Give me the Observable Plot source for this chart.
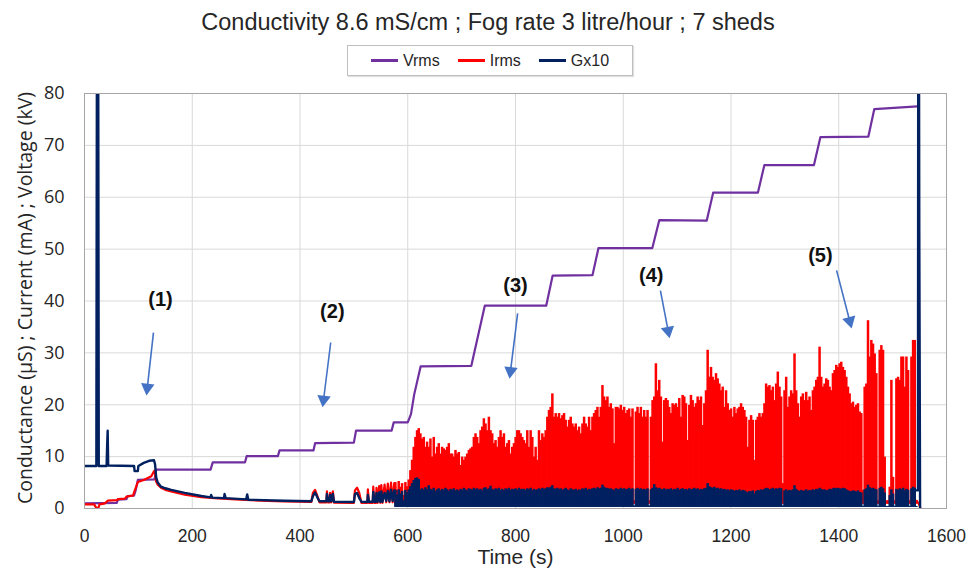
<!DOCTYPE html>
<html>
<head>
<meta charset="utf-8">
<script src="https://cdn.jsdelivr.net/npm/d3@7"></script>
<script src="https://cdn.jsdelivr.net/npm/@observablehq/plot@0.6"></script>
<style>
  html, body { margin: 0; padding: 0; background: #fff; }
  body { width: 976px; height: 574px; position: relative; overflow: hidden; font-family: "Liberation Sans", Arial, sans-serif; color: #262626; }
  #title { position: absolute; left: 0; top: 7px; width: 976px; text-align: center; font-size: 23.5px; line-height: 30px; }
  #legend { position: absolute; left: 347px; top: 45px; width: 284px; height: 29px; border: 1px solid #bfbfbf; box-shadow: 1px 1px 1px #e0e0e0; display: flex; align-items: center; justify-content: center; font-size: 16px; }
  .item { display: flex; align-items: center; margin: 0 9px; }
  .sw { width: 27px; height: 2.5px; margin-right: 5px; }
  #chart { position: absolute; left: 0; top: 80px; }
</style>
</head>
<body>
<div id="title"></div>
<div id="legend"></div>
<div id="chart"></div>
<script>
// ---------- data ----------
const titleText = "Conductivity 8.6 mS/cm ; Fog rate 3 litre/hour ; 7 sheds";
const seriesNames = ["Vrms", "Irms", "Gx10"];
const seriesColors = ["#7030A0", "#FF0000", "#002060"];
const xTicks = [0, 200, 400, 600, 800, 1000, 1200, 1400, 1600];
const yTicks = [0, 10, 20, 30, 40, 50, 60, 70, 80];
const xLabel = "Time (s)";
const yLabel = "Conductance (µS) ; Current (mA) ; Voltage (kV)";

// Vrms (kV): stepwise voltage
const vrmsT = [0,60,62,78,80,92,95,99,130,133,234,238,298,301,359,362,425,428,500,504,570,574,600,606,612,624,718,743,857,869,943,954,1054,1067,1155,1167,1250,1262,1354,1366,1455,1466,1546];
const vrmsV = [1.0,1.1,1.7,1.8,2.4,2.5,3.5,5.5,5.6,7.5,7.5,8.9,8.9,10.1,10.1,11.2,11.2,12.6,12.7,15.0,15.0,16.6,16.6,18.2,22.0,27.4,27.5,39.1,39.1,44.9,45.0,50.2,50.2,55.6,55.5,60.9,60.9,66.2,66.2,71.6,71.7,77.0,77.5];

// Irms (mA) before the discharge activity
const irmsT = [0,18,20,23,26,28,38,40,43,60,62,75,78,90,93,97,99,110,124,128,130,131,133,136,142,150,161,186,217,248,280,309,340,371,421,424,428,432,436,449,450,452,455,456,458,461,463,500,502,506,510,514,525,526,528,535,536,538,541,542,544,547,549,551,553,557,560,563,566,569,572,575,577];
const irmsV = [0.8,0.8,0.4,0.0,0.2,0.8,1.0,1.2,1.5,1.6,1.8,1.9,2.3,2.5,3.4,4.5,5.1,5.5,6.2,7.0,7.3,6.6,5.2,4.6,4.0,3.6,3.3,2.65,2.2,1.95,1.75,1.6,1.45,1.35,1.25,3.0,3.6,2.5,1.2,1.2,3.3,1.2,1.2,3.0,1.2,3.3,1.15,1.1,3.5,4.0,3.0,1.1,1.1,3.7,1.1,1.1,4.2,1.1,1.1,4.0,1.1,4.3,1.1,4.5,1.1,4.6,1.2,4.8,1.2,5.0,1.2,4.9,4.0];
const irmsEndT = [1545, 1548, 1552];
const irmsEndV = [1.5, 1.0, 0.0];

// Gx10 (µS) before the discharge activity
const gT = [0,22,23,25.5,26.5,41,42,43,44,92,93,99,100,110,120,129,131,133,136,142,150,161,186,217,234,235,237,248,259,260,262,300,302,304,371,421,424,428,432,436,449,450,452,455,456,458,461,463,500,502,506,510,514,525,526,528,535,536,538,541,542,544,547,549,551,553,557,560,563,566,569,572,575,577];
const gV = [8.2,8.2,85,85,8.2,8.2,12,15,8.3,8.2,7.2,7.2,8.2,8.8,9.2,9.3,8.5,6.0,5.0,4.2,3.9,3.6,3.0,2.4,2.15,2.6,2.1,2.05,2.0,2.8,2.0,1.75,2.7,1.7,1.5,1.4,2.4,3.1,2.2,1.4,1.4,2.8,1.4,1.4,2.6,1.4,2.8,1.3,1.25,2.8,3.0,2.0,1.3,1.25,2.6,1.3,1.3,3.2,1.3,1.3,3.0,1.3,3.1,1.3,3.3,1.3,3.0,1.5,3.4,1.4,3.6,1.5,3.5,3.4];
const gEndT = [1544, 1547, 1547.5, 1549, 1549.5, 1551];
const gEndV = [3.5, 3.5, 85, 85, 53, 0];

// Discharge activity: peak values sampled every 3.1 s from 577 s
const noiseT0 = 577, noiseDt = 3.1;
const irmsPeaks = [
 5.0,3.6,5.2,4.1,4.8,2.5,5.0,4.2,5.5, 7.3,9.3,11.8,13.7,15.0,15.4,14.4,
 13.4,13.7,11.8,12.8,11.8,13.4,9.9,13.7,10.5,11.8, 12.5,10.5,11.8,11.5,11.2,11.8,12.5,10.5,10.5,9.9,
 11.2,10.5,10.8,8.3,9.9,9.3,9.9,10.5,11.2,11.5, 11.8,13.7,14.4,13.7,12.5,15.0,15.7,17.3,16.3,15.0,
 17.6,15.0,14.4,12.5,13.1,11.8,13.7,15.0,13.7,14.4, 11.8,12.5,13.1,10.5,11.8,12.5,13.7,15.0,15.0,14.4, 13.7,
 13.1,12.5,15.0,11.8,15.0,13.7,9.9,11.8,9.3,15.0, 13.1,14.4,13.7,15.0,17.6,18.9,19.5,22.1,17.6,18.3,
 17.6,18.3,17.3,17.9,18.3,17.0,15.7,17.0,17.6,16.3, 15.7,16.3,15.0,15.7,14.4,16.3,17.6,16.3,15.7,17.6,
 15.0,17.6,18.3,18.9,19.5,17.6,19.5,23.7,21.5,20.8, 21.5,19.5,20.2,19.2,12.5,19.5,19.5,19.2,19.9,18.9,
 19.5,18.3,18.9,19.2,17.6,19.2,1.5,18.6,19.5,18.3, 19.5,17.6,18.9,17.6,18.9,1.5,17.6,20.8,
 21.5,27.9,22.7,24.7,21.5,12.8,20.8,21.2,20.8,19.5, 18.3,20.2,19.9,20.2,19.5,21.2,17.6,21.8,21.5,20.2,
 13.1,19.9,21.8,20.8,19.5,20.2,21.5,20.8,21.5,16.0, 20.2,22.7,30.5,25.3,27.2,25.3,24.7,26.0,25.0,24.0,
 22.7,23.4,19.5,22.7,20.2,18.9,19.2,17.6,19.5,18.3, 19.2,19.5,20.2,19.5,18.9,17.6,11.8,17.0,17.9,17.0,
 9.3,17.0,17.6,18.3,17.6,18.3,20.2,24.0,23.4,23.7, 22.7,23.4,20.8,24.0,26.3,23.4,21.5,4.8,
 22.7,25.3,19.5,21.5,22.7,22.1,29.8,22.7,20.2,17.6, 21.5,22.1,20.8,22.4,20.8,21.5,18.9,22.7,23.4,24.7,
 25.3,31.1,25.3,23.4,24.0,25.0,24.7,23.4,22.7,26.0, 26.6,27.6,27.2,27.9,28.2,27.2,26.6,25.3,23.4,22.1,
 20.2,20.5,19.5,19.9,20.2,18.6,18.3,3.5,23.4,24.0, 36.2,29.2,32.4,31.7,29.8,26.0,1.5,30.5,31.4,30.5,
 9.9,1.5,1.5,4.1,24.7,6.0,1.5,25.0,25.3,24.7, 29.2,29.2,23.4,29.2,26.6,1.5,29.2,32.4,32.4,1.5
];
const gPeaks = [
 3.4,2.6,3.6,2.8,3.3,1.5,3.5,3.0,3.6, 4.2,4.8,5.4,5.8,5.9,5.6,3.6,
 3.8,3.5,4.0,3.6,4.4,3.7,3.5,3.9,3.3,3.6, 3.8,3.4,3.7,3.5,3.9,3.6,3.3,3.7,3.5,3.8,
 3.4,3.6,3.3,3.7,3.5,3.9,3.6,3.4,3.8,3.7, 3.5,3.9,3.6,3.8,3.5,3.7,3.4,3.9,4.0,3.6,
 3.8,4.3,3.7,3.5,3.8,3.6,3.9,3.5,3.7,3.4, 3.8,3.6,3.9,3.5,3.7,3.6,3.8,3.5,3.9,3.6, 3.7,
 3.7,3.5,3.8,3.6,3.9,3.4,3.7,3.5,3.6,3.8, 3.6,3.9,3.7,3.8,4.0,3.9,4.1,4.4,3.8,3.7,
 3.9,3.6,3.8,3.5,3.7,3.9,3.6,3.4,3.8,3.6, 3.5,3.7,3.4,3.6,3.5,3.8,3.6,3.9,3.5,3.7,
 3.6,3.8,3.9,3.7,4.0,3.8,3.9,4.5,4.1,3.8, 3.9,3.7,3.8,3.6,3.4,3.8,3.7,3.6,3.9,3.7,
 3.8,3.6,3.7,3.9,3.6,3.8,0.5,3.7,3.9,3.6, 3.8,3.6,3.7,3.5,3.8,0.5,3.6,3.9,
 4.6,4.0,3.8,3.9,3.7,3.6,3.8,3.5,3.7,3.6, 3.8,3.5,3.7,3.6,3.9,3.5,3.7,3.8,3.6,3.7,
 3.5,3.8,3.6,3.7,3.9,3.6,3.8,3.5,3.7,3.6, 3.8,3.9,4.8,4.2,4.0,3.9,4.1,3.8,3.9,3.7,
 3.8,3.6,3.7,3.5,3.6,3.4,3.6,3.5,3.3,3.5, 3.4,3.6,3.3,3.5,3.4,3.2,3.0,3.3,3.2,3.4,
 2.8,3.3,3.5,3.4,3.6,3.5,3.7,3.9,3.8,3.6, 3.7,3.9,3.6,3.8,3.7,3.9,3.8,0.5,
 3.4,3.6,3.3,3.5,3.4,3.6,4.4,3.7,3.4,3.3, 3.5,3.3,3.4,3.6,3.3,3.5,3.4,3.6,3.5,3.7,
 3.6,3.9,3.7,3.5,3.6,3.4,3.5,3.7,3.6,3.8, 3.9,3.8,3.9,3.8,3.7,3.9,3.8,3.6,3.4,3.3,
 3.2,3.4,3.3,3.2,3.4,3.1,3.0,0.4,3.6,3.8, 4.5,4.0,3.8,3.9,3.7,3.6,0.4,3.9,4.1,3.8,
 3.0,0.4,0.4,2.5,3.6,2.8,0.4,3.7,3.5,3.8, 3.6,3.9,3.4,3.7,3.5,0.4,3.8,4.1,3.9,0.4
];
const irmsFloor = 0.8, gFloor = 0.2;

// Annotations
const annoText = ["(1)", "(2)", "(3)", "(4)", "(5)"];
const annoX = [141, 460, 800, 1052, 1366];
const annoY = [40.3, 38.0, 43.0, 44.9, 48.8];
const arrowX1 = [128, 457, 804, 1069, 1396];
const arrowY1 = [33.9, 32.0, 37.6, 42.0, 45.9];
const arrowX2 = [115, 442, 789, 1086, 1424];
const arrowY2 = [21.8, 19.5, 25.0, 32.8, 34.7];

// ---------- build ----------
document.getElementById("title").textContent = titleText;
const legend = document.getElementById("legend");
seriesNames.forEach((n, i) => {
  const it = document.createElement("div"); it.className = "item";
  const sw = document.createElement("div"); sw.className = "sw"; sw.style.background = seriesColors[i];
  const tx = document.createElement("span"); tx.textContent = n;
  it.appendChild(sw); it.appendChild(tx); legend.appendChild(it);
});

const W = 976, H = 494, mT = 13, mB = 66, mL = 84, mR = 30;
const zip = (T, V) => T.map((t, i) => ({t, v: V[i]}));
const vrms = zip(vrmsT, vrmsV);
const irms = zip(irmsT, irmsV);
const irmsEnd = zip(irmsEndT, irmsEndV);
const g = zip(gT, gV);
const gEnd = zip(gEndT, gEndV);
const irmsNoise = irmsPeaks.map((v, i) => ({t: noiseT0 + i * noiseDt, v}));
const gNoise = gPeaks.map((v, i) => ({t: noiseT0 + i * noiseDt, v}));

const sx = Plot.scale({x: {domain: [0, 1600], range: [mL, W - mR]}});
const sy = Plot.scale({y: {domain: [0, 80], range: [H - mB, mT]}});
const headR = 5, tipOff = 2 * Math.sqrt(Math.PI * headR * headR / (Math.sqrt(3) * 3));
const arrows = annoText.map((s, i) => {
  const px1 = sx.apply(arrowX1[i]), py1 = sy.apply(arrowY1[i]);
  const px2 = sx.apply(arrowX2[i]), py2 = sy.apply(arrowY2[i]);
  const dx = px2 - px1, dy = py2 - py1, L = Math.hypot(dx, dy);
  const ux = dx / L, uy = dy / L;
  const cx = px2 - ux * tipOff, cy = py2 - uy * tipOff;
  return {x1: arrowX1[i], y1: arrowY1[i], x2: sx.invert(cx), y2: sy.invert(cy),
          rot: Math.atan2(ux, -uy) * 180 / Math.PI};
});
const annos = annoText.map((s, i) => ({s, x: annoX[i], y: annoY[i]}));

const chart = Plot.plot({
  width: W, height: H, marginTop: mT, marginBottom: mB, marginLeft: mL, marginRight: mR,
  x: {domain: [0, 1600]},
  y: {domain: [0, 80]},
  style: {fontFamily: "'Liberation Sans', Arial, sans-serif", color: "#262626", background: "#fff"},
  marks: [
    Plot.gridX(xTicks, {stroke: "#d9d9d9", strokeOpacity: 1}),
    Plot.gridY(yTicks, {stroke: "#d9d9d9", strokeOpacity: 1}),
    Plot.axisX(xTicks, {tickSize: 0, tickPadding: 21, label: null, fontSize: 17.5, tickFormat: d => String(d)}),
    Plot.axisY(yTicks, {tickSize: 0, tickPadding: 20, label: null, fontSize: 18, fontFamily: "'Open Sans', sans-serif", tickFormat: d => String(d)}),
    Plot.lineY(vrms, {x: "t", y: "v", stroke: seriesColors[0], strokeWidth: 2.2, clip: true}),
    Plot.lineY(irms, {x: "t", y: "v", stroke: seriesColors[1], strokeWidth: 2.2, clip: true}),
    Plot.ruleX(irmsNoise, {x: "t", y1: irmsFloor, y2: "v", stroke: seriesColors[1], strokeWidth: 2.5, shapeRendering: "auto"}),
    Plot.lineY(irmsEnd, {x: "t", y: "v", stroke: seriesColors[1], strokeWidth: 2, clip: true}),
    Plot.lineY(g, {x: "t", y: "v", stroke: seriesColors[2], strokeWidth: 2.4, clip: true}),
    Plot.ruleX(gNoise, {x: "t", y1: gFloor, y2: "v", stroke: seriesColors[2], strokeWidth: 2.5, shapeRendering: "auto"}),
    Plot.lineY(gEnd, {x: "t", y: "v", stroke: seriesColors[2], strokeWidth: 2.4, clip: true}),
    Plot.frame({stroke: "#a6a6a6"}),
    Plot.link(arrows, {x1: "x1", y1: "y1", x2: "x2", y2: "y2", stroke: "#4472C4", strokeWidth: 1.6}),
    Plot.dot(arrows, {x: "x2", y: "y2", r: headR, symbol: "triangle", rotate: "rot", fill: "#4472C4", stroke: null}),
    Plot.text(annos, {x: "x", y: "y", text: "s", fontSize: 20, fontWeight: "bold", fill: "#111"}),
    Plot.text([xLabel], {frameAnchor: "bottom", dy: 55, text: d => d, fontSize: 21}),
    Plot.text([yLabel], {frameAnchor: "left", textAnchor: "middle", dx: -59, dy: -3, rotate: -90, text: d => d, fontSize: 19.5, fontFamily: "'Open Sans', sans-serif"})
  ]
});
document.getElementById("chart").appendChild(chart);
</script>
</body>
</html>
